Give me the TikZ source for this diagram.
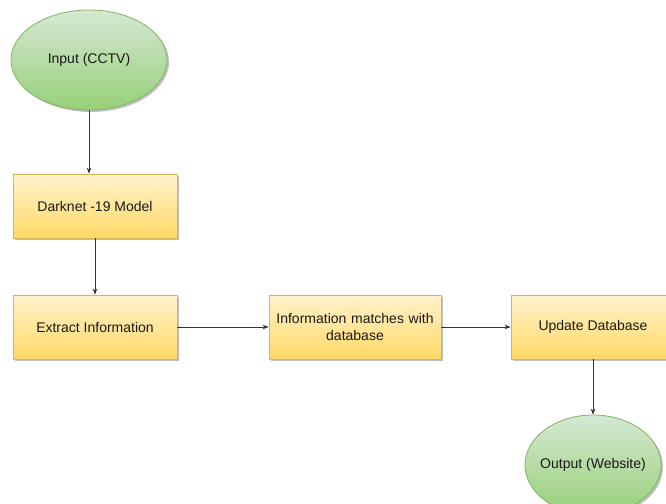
\documentclass[tikz,border=0pt]{standalone}
\usepackage{fontspec}
\setmainfont{Liberation Sans}
\usetikzlibrary{shapes.geometric,shadows,arrows.meta}
\definecolor{yelTop}{HTML}{FFF2CC}
\definecolor{yelBot}{HTML}{FFD966}
\definecolor{yelLine}{HTML}{D6B656}
\definecolor{grnTop}{HTML}{D5E8D4}
\definecolor{grnBot}{HTML}{97D077}
\definecolor{grnLine}{HTML}{82B366}
\definecolor{lineCol}{HTML}{333333}
\begin{document}
\begin{tikzpicture}[x=1pt,y=-1pt,
  every node/.style={font=\fontsize{14}{16.5}\selectfont, text=black!90, align=center},
  myshadow/.style={drop shadow={shadow xshift=2pt,shadow yshift=-2pt,opacity=0.25,fill=black}},
  procbox/.style={rectangle, draw=yelLine, line width=0.8pt, top color=yelTop, bottom color=yelBot, minimum width=164pt, minimum height=64pt, inner sep=0pt, myshadow},
  termnode/.style={ellipse, draw=grnLine, line width=0.8pt, top color=grnTop, bottom color=grnBot, inner sep=0pt, myshadow},
  conn/.style={draw=lineCol, line width=0.8pt, -{Stealth[length=6pt,width=4.5pt]}}
]
\useasboundingbox (0,0) rectangle (666,503);
\clip (0,0) rectangle (666,503);
\fill[white] (0,0) rectangle (666,503);
\node[termnode, minimum width=156pt, minimum height=100pt, label={center:Input (CCTV)}] (in) at (89,60) {};
\node[procbox] (dark) at (95,206) {Darknet -19 Model};
\node[procbox] (ext) at (95,327) {Extract Information};
\node[procbox, minimum width=172pt, text width=166pt] (info) at (355,327) {Information matches with\\database};
\node[procbox] (upd) at (593,327) {Update Database};
\node[termnode, minimum width=136pt, minimum height=100pt, label={center:Output (Website)}] (out) at (593,465) {};
\draw[conn] (in.south) -- (in.south |- dark.north);
\draw[conn] (dark) -- (ext);
\draw[conn] (ext) -- (info);
\draw[conn] (info) -- (upd);
\draw[conn] (upd) -- (out);
\end{tikzpicture}
\end{document}
